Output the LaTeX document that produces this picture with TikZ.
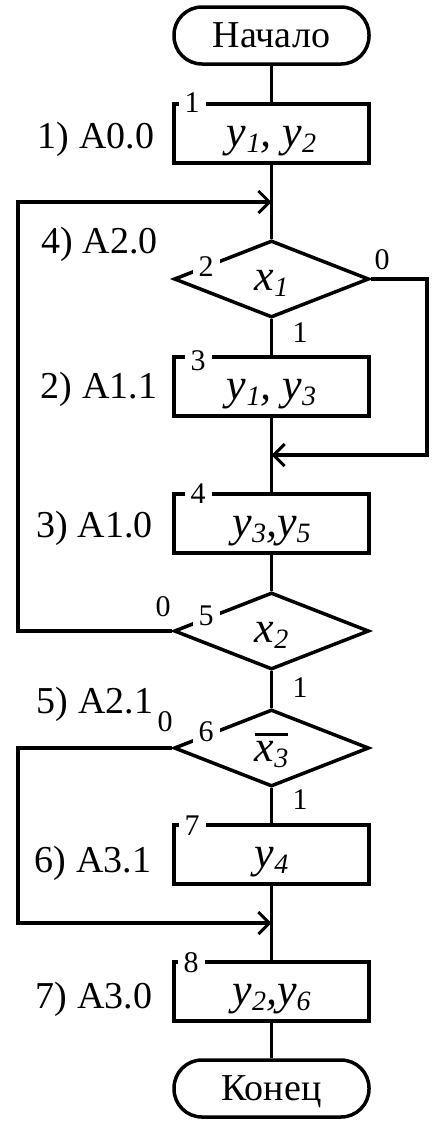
\documentclass[tikz,border=0pt]{standalone}
\usepackage{fontspec}
\setmainfont{Liberation Serif}
\usetikzlibrary{arrows.meta,shapes.geometric}
\newcommand\sbs[1]{\raisebox{-6pt}{\fontsize{28}{28}\selectfont #1}}
\newcommand\ovl[1]{\vbox{\hrule height 3pt\kern 5pt\hbox{#1}}}
\begin{document}
\begin{tikzpicture}[x=1pt,y=-1pt,
  every node/.style={inner sep=0pt},
  ln/.style={line width=3.5pt},
  term/.style={ln,draw,rectangle,rounded corners=28pt,minimum width=195pt,minimum height=57pt,
    font=\fontsize{38}{44}\selectfont,text height=23pt,text depth=0pt},
  op/.style={ln,draw,rectangle,minimum width=195pt,minimum height=59pt,
    font=\fontsize{44}{50}\selectfont\itshape,text height=30pt,text depth=5pt},
  cond/.style={ln,draw,diamond,minimum width=195pt,minimum height=77pt,
    font=\fontsize{44}{50}\selectfont\itshape,text height=26pt,text depth=4pt},
  side/.style={font=\fontsize{38}{44}\selectfont,anchor=base},
  lab/.style={font=\fontsize{30}{30}\selectfont},
  num/.style={lab,fill=white,inner xsep=6pt,inner ysep=2pt},
  arr/.style={ln,-{Straight Barb[length=11pt,width=22pt,line width=3pt]}}
]
\useasboundingbox (0,0) rectangle (445,1125);

% main blocks
\node[term] (start) at (271.5,35.5) {Начало};
\node[op] (b1) at (271.5,133.5) {y\sbs{1}, y\sbs{2}};
\node[cond] (d2) at (271.5,279) {x\sbs{1}};
\node[op] (b3) at (271.5,386.5) {y\sbs{1}, y\sbs{3}};
\node[op] (b4) at (271.5,523.5) {y\sbs{3},y\sbs{5}};
\node[cond,text height=26pt,text depth=4pt] (d5) at (271.5,631) {x\sbs{2}};
\node[cond,text height=30pt,text depth=4pt] (d6) at (271.5,748) {\ovl{x\sbs{3}}};
\node[op] (b7) at (271.5,854.5) {y\sbs{4}};
\node[op] (b8) at (271.5,991.5) {y\sbs{2},y\sbs{6}};
\node[term] (end) at (271.5,1088.5) {Конец};

% junction and corner coordinates
\coordinate (j1) at (271.5,202);
\coordinate (j2) at (271.5,455);
\coordinate (j3) at (271.5,923);
\coordinate (r2) at (427,279);
\coordinate (l5) at (18,631);
\coordinate (l6) at (18,748);

% connectors
\draw[ln] (start) -- (b1);
\draw[ln] (b1) -- (d2);
\draw[ln] (d2) -- (b3);
\draw[ln] (b3) -- (b4);
\draw[ln] (b4) -- (d5);
\draw[ln] (d5) -- (d6);
\draw[ln] (d6) -- (b7);
\draw[ln] (b7) -- (b8);
\draw[ln] (b8) -- (end);
\draw[arr] (d5.west) -- (l5) |- (j1);
\draw[arr] (d2.east) -- (r2) |- (j2);
\draw[arr] (d6.west) -- (l6) |- (j3);

% block numbers
\node[num] (n1) at (192,103) {1};
\node[num] (n2) at (206,267) {2};
\node[num] (n3) at (198,361) {3};
\node[num] (n4) at (198,494) {4};
\node[num] (n5) at (206,616) {5};
\node[num] (n6) at (206,732) {6};
\node[num] (n7) at (192,826) {7};
\node[num] (n8) at (191,963) {8};

% branch labels
\node[lab] (z2) at (382,260) {0};
\node[lab] (z5) at (163,607) {0};
\node[lab] (z6) at (165,722) {0};
\node[lab] (o2) at (300,333) {1};
\node[lab] (o5) at (300,688) {1};
\node[lab] (o6) at (300,800) {1};

% state labels
\node[side] (s1) at (96,148) {1) A0.0};
\node[side] (s4) at (99.5,253) {4) A2.0};
\node[side] (s2) at (99,398) {2) A1.1};
\node[side] (s3) at (94.5,537) {3) A1.0};
\node[side] (s5) at (95,713) {5) A2.1};
\node[side] (s6) at (93,872) {6) A3.1};
\node[side] (s7) at (94,1008) {7) A3.0};
\end{tikzpicture}
\end{document}
